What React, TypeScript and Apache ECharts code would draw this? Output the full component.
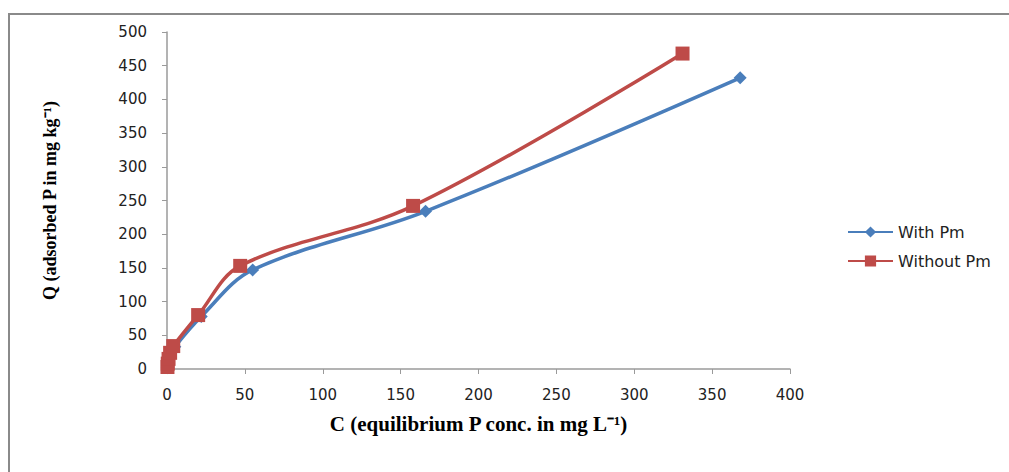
import React, { useEffect, useRef } from "react";
import * as echarts from "echarts";

const withPmC = [0.2, 0.5, 1, 2, 5, 22, 55, 166, 368];
const withPmQ = [2, 7, 13, 21, 33, 78, 147, 234, 432];
const withoutPmC = [0.3, 0.5, 1, 2, 4, 20, 47, 158, 331];
const withoutPmQ = [3, 8, 15, 24, 34, 80, 153, 242, 468];
const seriesNames = ["With Pm", "Without Pm"];
const xTitle = "C (equilibrium P conc. in mg L⁻¹)";
const yTitle = "Q (adsorbed P in mg kg⁻¹)";

export default function App() {
  const ref = useRef<HTMLDivElement>(null);
  useEffect(() => {
    document.body.style.margin = "0";
    document.body.style.overflow = "hidden";
    const chart = echarts.init(ref.current!, null, { renderer: "svg" });
    const axisLine = { show: true, lineStyle: { color: "#9a9a9a", width: 1.5 } };
    chart.setOption({
      animation: false,
      backgroundColor: "#ffffff",
      graphic: [
        {
          type: "rect",
          shape: { x: 9, y: 14, width: 1300, height: 800 },
          style: { fill: "none", stroke: "#8a8a8a", lineWidth: 2 },
          silent: true,
        },
      ],
      grid: { left: 167, top: 32, right: 219, bottom: 103 },
      legend: {
        orient: "vertical",
        left: 842,
        top: 219,
        itemWidth: 45,
        itemHeight: 14,
        itemGap: 13,
        textStyle: { fontFamily: "DejaVu Sans", fontSize: 16, color: "#222" },
        data: seriesNames,
      },
      xAxis: {
        type: "value",
        min: 0,
        max: 400,
        interval: 50,
        name: xTitle,
        nameLocation: "middle",
        nameGap: 44,
        nameTextStyle: { fontFamily: "Liberation Serif", fontWeight: "bold", fontSize: 21, color: "#000", verticalAlign: "top" },
        axisLine,
        axisTick: { show: true, length: 5, lineStyle: { color: "#9a9a9a" } },
        axisLabel: { fontFamily: "DejaVu Sans", fontSize: 15, color: "#222", margin: 18 },
        splitLine: { show: false },
      },
      yAxis: {
        type: "value",
        min: 0,
        max: 500,
        interval: 50,
        name: yTitle,
        nameLocation: "middle",
        nameGap: 108,
        nameTextStyle: { fontFamily: "Liberation Serif", fontWeight: "bold", fontSize: 18, color: "#000" },
        axisLine,
        axisTick: { show: true, length: 5, lineStyle: { color: "#9a9a9a" } },
        axisLabel: { fontFamily: "DejaVu Sans", fontSize: 15, color: "#222", margin: 20 },
        splitLine: { show: false },
      },
      series: [
        {
          name: seriesNames[0],
          type: "line",
          smooth: 0.35,
          data: withPmC.map((c, i) => [c, withPmQ[i]]),
          symbol: "diamond",
          symbolSize: 13,
          lineStyle: { color: "#4a7ebb", width: 3.5 },
          itemStyle: { color: "#4a7ebb" },
          z: 2,
        },
        {
          name: seriesNames[1],
          type: "line",
          smooth: 0.35,
          data: withoutPmC.map((c, i) => [c, withoutPmQ[i]]),
          symbol: "rect",
          symbolSize: 14,
          lineStyle: { color: "#be4b48", width: 3.5 },
          itemStyle: { color: "#be4b48" },
          z: 3,
        },
      ],
    });
    return () => chart.dispose();
  }, []);
  return <div ref={ref} style={{ width: 1009, height: 472 }} />;
}
